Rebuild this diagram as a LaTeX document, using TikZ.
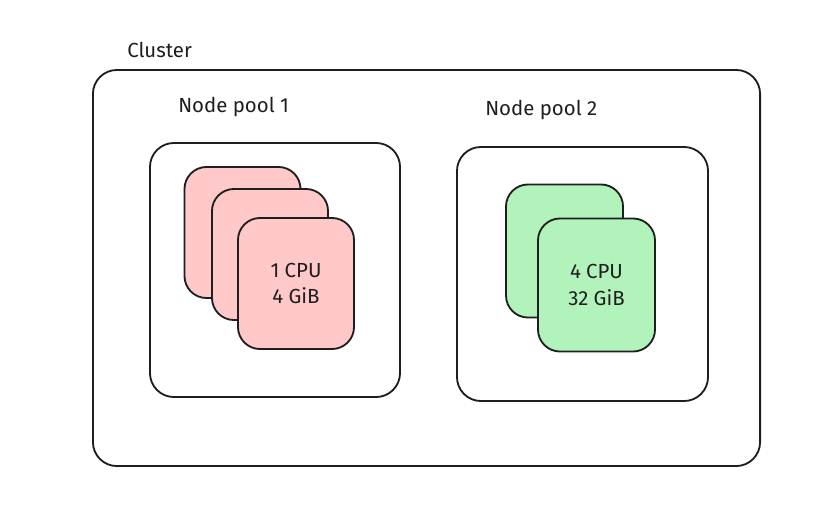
\documentclass[tikz,border=0pt]{standalone}
\usepackage{fontspec}
\setmainfont{Fira Sans}
\definecolor{inkc}{HTML}{1E1E1E}
\definecolor{pinkfill}{HTML}{FFC9C9}
\definecolor{greenfill}{HTML}{B2F2BB}
\begin{document}
\begin{tikzpicture}[x=0.025cm, y=-0.025cm,
  every node/.style={text=inkc, font=\fontsize{14.5}{19}\selectfont},
  frame/.style={draw=inkc, line width=1.3pt, rectangle, rounded corners=0.6cm, fill=white},
  vm/.style={draw=inkc, line width=1.3pt, rectangle, rounded corners=0.55cm, align=center, inner sep=0pt}]
\useasboundingbox (0,0) rectangle (813,515);
% cluster and pools
\node[frame, minimum width=16.675cm, minimum height=9.9cm] (cluster) at (426.5,268) {};
\node[anchor=west, inner sep=0pt] (clusterlbl) at (127,50) {Cluster};
\node[frame, minimum width=6.25cm, minimum height=6.35cm] (poola) at (275,270) {};
\node[anchor=west, inner sep=0pt] (poolalbl) at (178,107) {Node pool 1};
\node[frame, minimum width=6.275cm, minimum height=6.35cm] (poolb) at (582.5,274) {};
\node[anchor=west, inner sep=0pt] (poolblbl) at (485,110) {Node pool 2};
% node pool 1 machines
\node[vm, fill=pinkfill, minimum width=2.9cm, minimum height=3.275cm] (pa) at (242.5,232.5) {};
\node[vm, fill=pinkfill, minimum width=2.9cm, minimum height=3.275cm] (pb) at (270,254.5) {};
\node[vm, fill=pinkfill, minimum width=2.9cm, minimum height=3.275cm] (pc) at (296,283.5) {1 CPU\\4 GiB};
% node pool 2 machines
\node[vm, fill=greenfill, minimum width=2.925cm, minimum height=3.325cm] (ga) at (564.5,251) {};
\node[vm, fill=greenfill, minimum width=2.925cm, minimum height=3.325cm] (gb) at (596.5,285) {4 CPU\\32 GiB};
\end{tikzpicture}
\end{document}
